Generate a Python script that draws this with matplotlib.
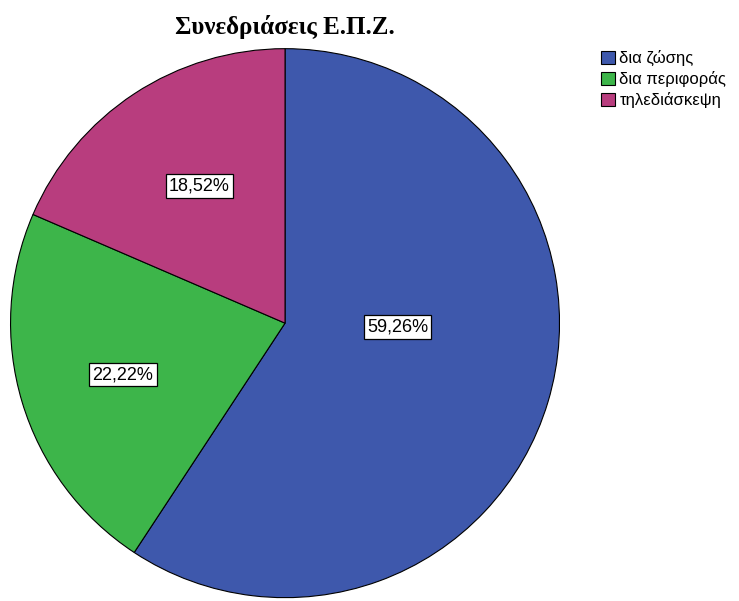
import matplotlib.pyplot as plt
import numpy as np

categories = ["δια ζώσης", "δια περιφοράς", "τηλεδιάσκεψη"]
values = [59.26, 22.22, 18.52]
colors = ["#3E58AC", "#3DB54A", "#B83D7E"]
pct_labels = ["59,26%", "22,22%", "18,52%"]
# label placement (distance from centre, angle in degrees) as SPSS draws it
label_pos = [(0.41, -2), (0.62, 197.6), (0.59, 122)]

fig = plt.figure(figsize=(7.39, 6.01), dpi=100)
ax = fig.add_axes([0.0122, 0.0033, 0.747, 0.918])

wedges, _ = ax.pie(values, colors=colors, startangle=90, counterclock=False,
                   wedgeprops=dict(edgecolor="black", linewidth=0.8))
ax.set_xlim(-1.005, 1.005)
ax.set_ylim(-1.005, 1.005)
ax.set_aspect("equal")

for lab, (r, a) in zip(pct_labels, label_pos):
    t = np.deg2rad(a)
    ax.text(r * np.cos(t), r * np.sin(t), lab, ha="center", va="center",
            fontsize=13, family="Liberation Sans",
            bbox=dict(boxstyle="square,pad=0.18", fc="white", ec="black", lw=0.9))

fig.text(285 / 739, 1 - 27 / 601, "Συνεδριάσεις Ε.Π.Ζ.", ha="center", va="center",
         fontsize=18, fontweight="bold", family="Liberation Serif")

fig.legend(wedges, categories, loc="upper left", bbox_to_anchor=(601 / 739, 1 - 50 / 601),
           frameon=False, prop=dict(family="Liberation Sans", size=12),
           handlelength=0.85, handleheight=0.85, handletextpad=0.25,
           labelspacing=0.3, borderpad=0, borderaxespad=0)

fig.savefig("out.png", dpi=100)
